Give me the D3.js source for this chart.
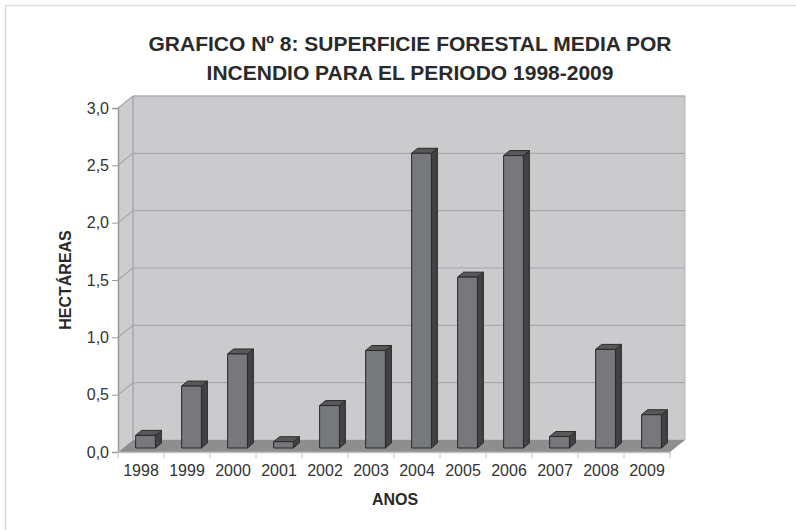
<!DOCTYPE html>
<html>
<head>
<meta charset="utf-8">
<script src="https://d3js.org/d3.v7.min.js"></script>
<style>
body { margin: 0; background: #fff; font-family: "Liberation Sans", Arial, sans-serif; }
svg { display: block; }
</style>
</head>
<body>
<svg width="796" height="530"></svg>
<script>
// data
var years = ["1998", "1999", "2000", "2001", "2002", "2003", "2004", "2005", "2006", "2007", "2008", "2009"];
var hectareas = [0.11, 0.54, 0.82, 0.055, 0.37, 0.85, 2.57, 1.49, 2.55, 0.10, 0.86, 0.29];
var yTicks = [0, 0.5, 1.0, 1.5, 2.0, 2.5, 3.0];

var svg = d3.select("svg");

// outer frame
svg.append("rect").attr("x", 5.5).attr("y", 5.5).attr("width", 800).attr("height", 540)
  .attr("fill", "none").attr("stroke", "#dcdcdc").attr("stroke-width", 1.5);

// front plane of the 3d box
var x = d3.scaleBand().domain(years).range([118, 670]);
var y = d3.scaleLinear().domain([0, 3]).range([452, 108]);
var dx = 15, dy = -12;          // depth of the box
var bx = 4.5, by = -4;          // bar front face, set back into the box
var bdx = 6, bdy = -5;          // bar depth
var barW = x.bandwidth() * 0.43;

var x0 = x.range()[0], x1 = x.range()[1];
var yb = y(0), yt = y(3);

function pts(a) { return a.map(function (p) { return p.join(","); }).join(" "); }

// left wall
svg.append("polygon")
  .attr("points", pts([[x0, yb], [x0 + dx, yb + dy], [x0 + dx, yt + dy], [x0, yt]]))
  .attr("fill", "#cdcdd0");
// back wall
svg.append("polygon")
  .attr("points", pts([[x0 + dx, yb + dy], [x1 + dx, yb + dy], [x1 + dx, yt + dy], [x0 + dx, yt + dy]]))
  .attr("fill", "#cbcbce").attr("stroke", "#b4b4b7").attr("stroke-width", 1);

// grid lines
yTicks.forEach(function (t) {
  if (t === 0) return;
  svg.append("line")
    .attr("x1", x0 + dx).attr("x2", x1 + dx)
    .attr("y1", y(t) + dy).attr("y2", y(t) + dy)
    .attr("stroke", "#a8a8ab").attr("stroke-width", 1.2);
  svg.append("line")
    .attr("x1", x0).attr("x2", x0 + dx)
    .attr("y1", y(t)).attr("y2", y(t) + dy)
    .attr("stroke", "#a8a8ab").attr("stroke-width", 1.2);
});
svg.append("line")
  .attr("x1", x0 + dx).attr("x2", x0 + dx).attr("y1", yb + dy).attr("y2", yt + dy)
  .attr("stroke", "#a8a8ab").attr("stroke-width", 1.2);

// floor
svg.append("polygon")
  .attr("points", pts([[x0, yb], [x1, yb], [x1 + dx, yb + dy], [x0 + dx, yb + dy]]))
  .attr("fill", "#8e8e8e");

// bars
var bars = svg.append("g");
years.forEach(function (yr, i) {
  var v = hectareas[i];
  var l = x(yr) + (x.bandwidth() - barW) / 2 + bx;
  var r = l + barW;
  var b = y(0) + by;
  var t = y(v) + by;
  var g = bars.append("g").attr("stroke", "#2a2a2a").attr("stroke-width", 1).attr("stroke-linejoin", "round");
  g.append("polygon").attr("points", pts([[r, b], [r + bdx, b + bdy], [r + bdx, t + bdy], [r, t]])).attr("fill", "#424244");
  g.append("polygon").attr("points", pts([[l, t], [r, t], [r + bdx, t + bdy], [l + bdx, t + bdy]])).attr("fill", "#58585a");
  g.append("rect").attr("x", l).attr("y", t).attr("width", barW).attr("height", b - t).attr("fill", "#77787b");
});

// y axis
var yAxis = d3.axisLeft(y).tickValues(yTicks).tickSize(6).tickPadding(3)
  .tickFormat(function (d) { return d3.format(".1f")(d).replace(".", ","); });
var ga = svg.append("g").attr("transform", "translate(" + x0 + ",0)").call(yAxis);
ga.select(".domain").attr("stroke", "#9a9a9a").attr("stroke-width", 1.5);
ga.selectAll(".tick line").attr("stroke", "#9a9a9a");
ga.selectAll(".tick text").attr("fill", "#333").style("font-size", "16px")
  .style("font-family", "'Liberation Sans', Arial, sans-serif");

// x axis
var xAxis = d3.axisBottom(x).tickSize(0).tickPadding(13);
var gx = svg.append("g").attr("transform", "translate(0," + yb + ")").call(xAxis);
gx.select(".domain").attr("stroke", "#c4c4c4").attr("stroke-width", 1.5);
gx.selectAll(".tick text").attr("fill", "#333").style("font-size", "16px")
  .style("font-family", "'Liberation Sans', Arial, sans-serif");
years.concat(["end"]).forEach(function (yr, i) {
  var xx = x0 + i * x.step();
  gx.append("line").attr("x1", xx).attr("x2", xx).attr("y1", 0).attr("y2", 6)
    .attr("stroke", "#c4c4c4").attr("stroke-width", 1);
});

// titles
var title = svg.append("text").attr("text-anchor", "middle")
  .attr("font-weight", "bold").attr("font-size", "21px").attr("fill", "#2a2a2a");
title.append("tspan").attr("x", 410).attr("y", 51).text("GRAFICO Nº 8: SUPERFICIE FORESTAL MEDIA POR");
title.append("tspan").attr("x", 410).attr("y", 80).text("INCENDIO PARA EL PERIODO 1998-2009");

svg.append("text").attr("x", 395).attr("y", 505).attr("text-anchor", "middle")
  .attr("font-weight", "bold").attr("font-size", "16px").attr("fill", "#2a2a2a").text("ANOS");

svg.append("text").attr("transform", "translate(71,280) rotate(-90)").attr("text-anchor", "middle")
  .attr("font-weight", "bold").attr("font-size", "16px").attr("fill", "#2a2a2a").text("HECTÁREAS");
</script>
</body>
</html>
